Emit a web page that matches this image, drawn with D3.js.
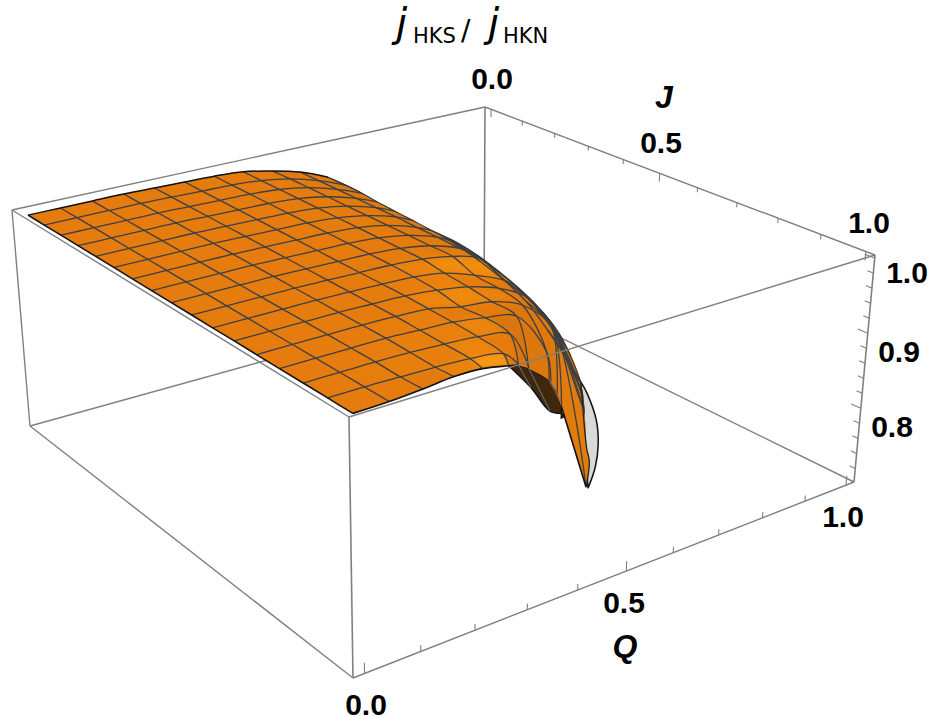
<!DOCTYPE html>
<html>
<head>
<meta charset="utf-8">
<script src="https://cdnjs.cloudflare.com/ajax/libs/d3/7.8.5/d3.min.js"></script>
<style>
html,body{margin:0;padding:0;background:#fff}
svg{display:block}
.num{font-family:"Liberation Sans",Arial,sans-serif;font-weight:700;font-size:30px;fill:#000;text-anchor:middle}
.axl{font-family:"Liberation Sans",Arial,sans-serif;font-weight:700;font-style:italic;font-size:32px;fill:#000;text-anchor:middle}
</style>
</head>
<body>
<svg id="c" width="930" height="717"></svg>
<script>
// ---- data ----
const qTicks = [0,0.1,0.2,0.3,0.4,0.5,0.6,0.7,0.8,0.9,1];
const jTicks = [0,0.1,0.2,0.3,0.4,0.5,0.6,0.7,0.8,0.9,1];
const zTicks = [0.72,0.74,0.76,0.78,0.8,0.82,0.84,0.86,0.88,0.9,0.92,0.94,0.96,0.98,1];
const meshSteps = 16;
// surface height on the mesh: one row per J = k/16, one value per Q = i/16
const zRows = [
 [.998,.998,.998,.998,.997,.996,.995,.992,.984,.973,.956,.928,.896,.866,.836,.808,.774],
 [.998,.998,.998,.998,.997,.996,.995,.992,.985,.973,.956,.928,.896,.865,.834,.806],
 [.998,.998,.998,.998,.997,.996,.995,.992,.985,.973,.956,.927,.895,.863,.830,.800],
 [.998,.998,.998,.998,.997,.996,.995,.992,.985,.973,.956,.925,.893,.859,.824,.787],
 [.998,.998,.998,.998,.997,.996,.995,.992,.985,.973,.955,.921,.889,.854,.815,.770],
 [.998,.998,.998,.998,.997,.996,.995,.992,.985,.973,.954,.917,.880,.840,.800,.745],
 [.998,.998,.998,.998,.997,.996,.995,.992,.985,.972,.952,.912,.872,.825,.780],
 [.998,.998,.998,.998,.997,.996,.995,.992,.985,.972,.950,.906,.865,.800,.735],
 [.998,.998,.998,.998,.997,.996,.995,.992,.985,.971,.945,.897,.855,.770],
 [.998,.998,.998,.998,.997,.996,.995,.992,.985,.971,.930,.885,.810,.720],
 [.998,.998,.998,.998,.997,.996,.994,.988,.974,.956,.919,.845,.740],
 [.998,.998,.998,.998,.997,.996,.992,.985,.972,.948,.890,.790],
 [.998,.998,.998,.998,.997,.995,.986,.981,.965,.924],
 [.998,.998,.998,.998,.996,.994,.988,.978,.920],
 [.998,.998,.998,.997,.995,.992,.983],
 [.998,.998,.997,.996,.994,.9875],
 [.998]
];
// where each mesh row stops on the visible edge
const rowEndQ = [1,.998,.992,.982,.968,.95,.927,.899,.866,.827,.781,.70,.587,.51,.413,.342,0];
const rowEndZ = [.774,.770,.762,.752,.745,.738,.725,.708,.708,.708,.708,.720,.815,.879,.933,.968,.998];
// where each mesh column stops on the visible edge
const colEndJ = [1,.998,.992,.982,.968,.95,.896,.844,.82,.767,.775,.705,.661,.583,.484,.348,0];
const colEndZ = [.998,.998,.998,.997,.990,.976,.950,.920,.886,.842,.708,.720,.708,.708,.708,.738,.774];
// visible front edge, corner to tip: Q, J, z
const edgeQ = [0,.0625,.125,.1875,.25,.3125,.342,.375,.413,.4375,.5,.51,.5625,.587,.625];
const edgeJ = [1,.998,.992,.982,.968,.95,.9375,.896,.875,.844,.82,.8125,.767,.75,.775];
const edgeZ = [.998,.998,.998,.997,.990,.976,.968,.950,.933,.920,.886,.879,.842,.815,.708];
// lower lip of the dark fold: Q, J, z
const lipQ = [.3125,.375,.4375,.5,.587];
const lipJ = [.95,.927,.899,.866,.75];
const lipZ = [.976,.930,.880,.854,.800];
// far rim behind the wall, tip upward: Q, J, z
const rimQ = [.625,.6875,.75,.8125,.875,.9];
const rimJ = [.78,.726,.661,.583,.484,.436];
const rimZ = [.708,.708,.708,.708,.708,.708];
// silhouette from the end of the J = 0 row down to the tip: Q, J, z
const farQ = [1,.98,.95,.9,.70,.6875,.625];
const farJ = [0,.199,.312,.436,.6875,.71,.775];
const farZ = [.774,.752,.738,.708,.720,.711,.708];

// ---- layout ----
const boxTop = [[12,210],[485,107],[875,255],[349,417]];
const boxBot = [[30,426],[484,300],[854,482],[353,678]];
const qRange = [-0.02,1.02], jRange = [-0.02,1.02], zRange = [0.702,1.004];
const sU = d3.scaleLinear().domain(qRange).range([0,1]);
const sV = d3.scaleLinear().domain(jRange).range([0,1]);
const sT = d3.scaleLinear().domain(zRange).range([1,0]);

function quad(p){
  const [p0,p1,p2,p3]=p;
  const dx1=p1[0]-p2[0],dx2=p3[0]-p2[0],sx=p0[0]-p1[0]+p2[0]-p3[0];
  const dy1=p1[1]-p2[1],dy2=p3[1]-p2[1],sy=p0[1]-p1[1]+p2[1]-p3[1];
  const det=dx1*dy2-dx2*dy1;
  const g=(sx*dy2-dx2*sy)/det,h=(dx1*sy-sx*dy1)/det;
  const a=p1[0]-p0[0]+g*p1[0],b=p3[0]-p0[0]+h*p3[0],c=p0[0];
  const d=p1[1]-p0[1]+g*p1[1],e=p3[1]-p0[1]+h*p3[1],f=p0[1];
  return (u,v)=>{const w=g*u+h*v+1;return [(a*u+b*v+c)/w,(d*u+e*v+f)/w];};
}
const hTop=quad(boxTop),hBot=quad(boxBot);
function proj(Q,J,z){
  const u=sU(Q),v=sV(J),t=sT(z);
  const a=hTop(u,v),b=hBot(u,v);
  return [a[0]+(b[0]-a[0])*t,a[1]+(b[1]-a[1])*t];
}
const svg=d3.select("#c");
const line=d3.line();
const smooth=d3.line().curve(d3.curveCatmullRom.alpha(0.5));
const boxCol="#808080",meshCol="#3c4044";
const [Q0,Q1]=qRange,[J0,J1]=jRange,[Z0,Z1]=zRange;
function seg(g,a,b,w){g.append("path").attr("d",line([proj(...a),proj(...b)])).attr("fill","none").attr("stroke",boxCol).attr("stroke-width",w||1.4);}
const pxOf=(qs,js,zs)=>qs.map((q,n)=>proj(q,js[n],zs[n]));
const joined=(lists)=>lists.map((l,n)=>{const d=smooth(l);return n?"L"+d.slice(1):d;}).join("")+"Z";

// back of the box
const back=svg.append("g");
seg(back,[Q0,J0,Z0],[Q1,J0,Z0]);
seg(back,[Q1,J0,Z0],[Q1,J1,Z0]);
seg(back,[Q1,J0,Z0],[Q1,J0,Z1],1.6);
seg(back,[Q0,J0,Z1],[Q1,J0,Z1]);
seg(back,[Q1,J0,Z1],[Q1,J1,Z1]);

// surface
const surf=svg.append("g");
const step=1/meshSteps;
const inside=(i,k)=>zRows[k]!==undefined&&zRows[k][i]!==undefined;

// grey back of the wall
surf.append("path").attr("d",smooth(pxOf(rimQ,rimJ,rimZ))+"Z").attr("fill","#d9d9d9").attr("stroke","#111").attr("stroke-width",1.5);
// dark fold under the rim
const edgePx=pxOf(edgeQ,edgeJ,edgeZ);
const lipPx=pxOf(lipQ,lipJ,lipZ);
surf.append("path").attr("d",joined([lipPx,edgePx.slice(5,14).reverse()]))
  .attr("fill","#40260a").attr("stroke","#111").attr("stroke-width",1.4);
[[7,1],[9,2],[10,3]].forEach(([e,l])=>{
  surf.append("path").attr("d",line([edgePx[e],lipPx[l]])).attr("stroke","#5f6770").attr("stroke-width",1.2).attr("fill","none");
});

// body of the surface, used as fill and as clip
const row0Px=zRows[0].map((z,i)=>proj(i*step,0,z));
const col0Px=zRows.map((r,k)=>proj(0,k*step,r[0]));
const farPx=pxOf(farQ,farJ,farZ);
const bodyD=joined([row0Px.concat(farPx.slice(1)),edgePx.slice().reverse(),col0Px.slice().reverse()]);
const defs=svg.append("defs");
defs.append("clipPath").attr("id","body").append("path").attr("d",bodyD);
defs.append("filter").attr("id","soft").attr("x","-5%").attr("y","-5%").attr("width","110%").attr("height","110%")
  .append("feGaussianBlur").attr("stdDeviation",3);
surf.append("path").attr("d",bodyD).attr("fill","#e07a0c");
const clipped=surf.append("g").attr("clip-path","url(#body)");
const fills=clipped.append("g").attr("filter","url(#soft)");

const shade=d3.scaleLinear().domain([0.2,0.55,0.78,0.89,1]).range(["#c06808","#e27c0c","#d4720a","#e67b0c","#ffa216"]).clamp(true);
const P=(i,k)=>[i*step,k*step,zRows[k][i]];
function cellOf(i,k){
  const c=[[i,k],[i+1,k],[i+1,k+1],[i,k+1]];
  const pts=[];
  for(let n=0;n<4;n++){
    const a=c[n],b=c[(n+1)%4],ia=inside(...a),ib=inside(...b);
    if(ia)pts.push(P(...a));
    if(ia!==ib){
      if(a[1]===b[1]){const kk=a[1];pts.push([rowEndQ[kk],kk*step,rowEndZ[kk]]);}
      else{const ii=a[0];pts.push([ii*step,colEndJ[ii],colEndZ[ii]]);}
    }
  }
  return {pts,i,k,depth:i-k};
}
const cells=[];
const front_=new Set();
for(let k=0;k<meshSteps;k++)for(let i=0;i<meshSteps;i++){
  if(!(inside(i,k)||inside(i+1,k)||inside(i,k+1)||inside(i+1,k+1)))continue;
  const cl=cellOf(i,k);
  if(cl.pts.length>=3)cells.push(cl);
}
cells.sort((a,b)=>b.depth-a.depth);
const zs=0.4/(Z1-Z0);
cells.forEach(cl=>{
  const px=cl.pts.map(p=>proj(...p));
  if(-d3.polygonArea(px)<=0.5)return;
  front_.add(cl.i+"_"+cl.k);
  const p=cl.pts,n0=p[0],n1=p[1],n2=p[2],n3=p[p.length-1];
  const d1=[n2[0]-n0[0],n2[1]-n0[1],(n2[2]-n0[2])*zs];
  const d2=[n3[0]-n1[0],n3[1]-n1[1],(n3[2]-n1[2])*zs];
  let nx=d1[1]*d2[2]-d1[2]*d2[1],ny=d1[2]*d2[0]-d1[0]*d2[2],nz=d1[0]*d2[1]-d1[1]*d2[0];
  const l=Math.hypot(nx,ny,nz)||1; if(nz<0){nx=-nx;ny=-ny;nz=-nz;}
  const v=(nx*0.05+ny*0.45+nz*0.89)/l;
  const col=shade(v);
  fills.append("path").attr("d",line(px)+"Z").attr("fill",col).attr("stroke",col).attr("stroke-width",0.7);
});
// mesh lines: contiguous visible runs of each row and column, smoothed
const isFront=(i,k)=>front_.has(i+"_"+k);
const meshG=clipped.append("g").attr("fill","none").attr("stroke",meshCol).attr("stroke-width",1.3);
function drawRuns(n,getPoint,visible){
  let run=[];
  const flush=()=>{if(run.length>1)meshG.append("path").attr("d",smooth(run.map(p=>proj(...p))));run=[];};
  for(let m=0;m<n;m++){
    if(visible(m)){
      if(!run.length)run.push(getPoint(m));
      run.push(getPoint(m+1));
    } else flush();
  }
  flush();
}
for(let k=1;k<meshSteps;k++){
  const len=zRows[k].length;
  drawRuns(len,m=>m<len?P(m,k):[rowEndQ[k],k*step,rowEndZ[k]],m=>isFront(m,k)||isFront(m,k-1));
}
for(let i=1;i<meshSteps;i++){
  let len=0;while(inside(i,len))len++;
  drawRuns(len,m=>m<len?P(i,m):[i*step,colEndJ[i],colEndZ[i]],m=>isFront(i,m)||isFront(i-1,m));
}
// outlines
const outline=(pts,w,c)=>surf.append("path").attr("d",smooth(pts)).attr("fill","none").attr("stroke",c||"#111").attr("stroke-width",w);
outline(row0Px.slice(0,11),1.5);
outline(row0Px.slice(10).concat(farPx.slice(1,4)),1.1,"#33373b");
outline(farPx.slice(3),1.3,"#222");
outline(col0Px,1.5);
outline(edgePx.slice(0,7),1.6);
outline(edgePx.slice(13),1.6);

// front of the box
const front=svg.append("g");
seg(front,[Q0,J1,Z1],[Q1,J1,Z1]);
seg(front,[Q0,J0,Z1],[Q0,J1,Z1]);
seg(front,[Q0,J0,Z1],[Q0,J0,Z0]);
seg(front,[Q0,J1,Z1],[Q0,J1,Z0],1.6);
seg(front,[Q1,J1,Z1],[Q1,J1,Z0],1.6);
seg(front,[Q0,J0,Z0],[Q0,J1,Z0]);
seg(front,[Q0,J1,Z0],[Q1,J1,Z0]);

// ticks
const major=v=>Math.abs(v*2-Math.round(v*2))<1e-6;
qTicks.forEach(q=>seg(front,[q,J1,Z0],[q,J1,Z0+(major(q)?0.0125:0.0075)],1.1));
jTicks.forEach(j=>seg(front,[Q1,j,Z1],[Q1,j,Z1-(major(j)?0.012:0.0065)],1.1));
zTicks.forEach(z=>{const m=Math.abs(z*10-Math.round(z*10))<1e-6;seg(front,[Q1,J1,z],[Q1,J1-(m?0.022:0.013),z],1.1);});

// numeric labels
const nums=[["0.0",492,89],["0.5",661,153],["1.0",869,233],["1.0",907,283],["0.9",899,362],["0.8",892,437],["1.0",843,527],["0.5",624,613],["0.0",366,715]];
svg.append("g").selectAll("text").data(nums).join("text").attr("class","num").attr("x",d=>d[1]).attr("y",d=>d[2]).text(d=>d[0]);
svg.append("text").attr("class","axl").attr("x",664).attr("y",108).text("J");
svg.append("text").attr("class","axl").attr("x",625).attr("y",657).text("Q");

// z axis title
const T=svg.append("g").attr("fill","#000");
const jt=(x)=>T.append("text").attr("x",x).attr("y",37).attr("font-family","DejaVu Sans").attr("font-style","italic").attr("font-size",40).text("j");
jt(396);jt(488);
const sub=(x,s)=>T.append("text").attr("x",x).attr("y",43).attr("font-family","DejaVu Sans").attr("font-size",21).text(s);
sub(413,"HKS");sub(503,"HKN");
T.append("text").attr("x",461).attr("y",40).attr("font-family","DejaVu Sans").attr("font-size",28).text("/");
</script>
</body>
</html>
